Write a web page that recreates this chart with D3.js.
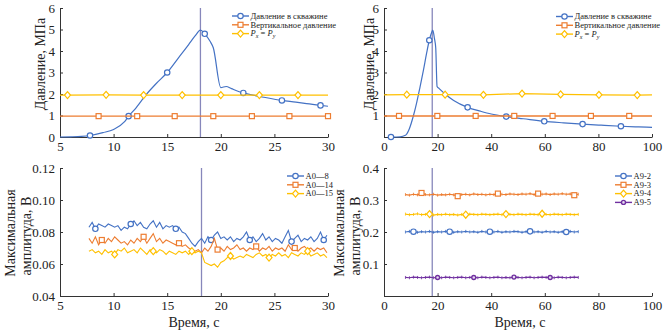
<!DOCTYPE html>
<html>
<head>
<meta charset="utf-8">
<script src="https://cdn.jsdelivr.net/npm/d3@7"></script>
<style>
body { margin: 0; background: #fff; }
</style>
</head>
<body>
<div id="chart"></div>
<script>
// colours of the series
var colBlue = "#4472c4", colOrange = "#ed7d31", colYellow = "#ffc000", colPurple = "#7030a0";
var colEvent = "#8787bb";
var serif = "'Liberation Serif', 'DejaVu Serif', serif";

// --- top left: pressure, 5..30 s
var tlWellT = [5, 6, 7, 7.8, 9, 10, 11, 11.4, 12, 13, 14, 15, 16, 17, 17.6, 18.1, 18.5, 19.0, 19.3, 20.0, 20.5, 21, 22.1, 23, 24, 25.7, 27, 28, 29.3, 30];
var tlWellP = [0, 0.01, 0.03, 0.07, 0.2, 0.35, 0.7, 0.97, 1.3, 1.95, 2.5, 3.0, 3.65, 4.3, 4.7, 4.97, 4.8, 4.45, 4.15, 2.3, 2.35, 2.25, 2.05, 1.95, 1.85, 1.7, 1.62, 1.55, 1.47, 1.43];
var tlWellMarks = [3, 7, 11, 16, 22, 25, 28];
var tlVertT = [5, 8.6, 12.2, 15.7, 19.3, 22.9, 26.4, 30];
var tlVertP = [0.97, 0.97, 0.97, 0.97, 0.97, 0.97, 0.97, 0.97];
var tlVertMarks = [1, 2, 3, 4, 5, 6, 7];
var tlPxyT = [5, 5.7, 9.3, 12.8, 16.4, 20.0, 23.6, 27.2, 30];
var tlPxyP = [1.95, 1.95, 1.96, 1.95, 1.95, 1.95, 1.95, 1.95, 1.95];
var tlPxyMarks = [1, 2, 3, 4, 5, 6, 7];

// --- top right: pressure, 0..100 s
var trWellT = [2.6, 6, 8, 9.5, 11, 12.2, 13.4, 14.7, 15.9, 16.9, 17.6, 18.2, 18.8, 19.3, 19.8, 20.6, 23, 26, 31.2, 36, 40, 45.6, 52, 59.8, 67, 74.1, 81, 88.4, 95, 100];
var trWellP = [0, 0.01, 0.08, 0.4, 1.0, 1.6, 2.3, 3.1, 3.9, 4.5, 4.8, 4.97, 4.6, 4.15, 2.35, 2.25, 1.98, 1.7, 1.38, 1.2, 1.07, 0.95, 0.85, 0.73, 0.66, 0.6, 0.55, 0.5, 0.47, 0.45];
var trWellMarks = [0, 9, 18, 21, 23, 25, 27];
var trVertT = [0, 5.6, 19.9, 34.2, 48.6, 62.9, 77.2, 91.5, 100];
var trVertP = [0.98, 0.98, 0.98, 0.98, 0.98, 0.98, 0.98, 0.98, 0.98];
var trVertMarks = [1, 2, 3, 4, 5, 6, 7];
var trPxyT = [0, 8.5, 22.8, 37.1, 51.5, 65.9, 80.2, 94.5, 100];
var trPxyP = [1.96, 1.97, 1.97, 1.96, 2.02, 1.98, 1.96, 1.95, 1.96];
var trPxyMarks = [1, 2, 3, 4, 5, 6, 7];

// --- bottom left: max amplitude, sampled every 0.3 s from 7.7 s
var blT = d3.range(75).map(function(i) { return 7.7 + i * 0.3; });
var blA8 = [0.083, 0.086, 0.082, 0.085, 0.084, 0.083, 0.085, 0.084, 0.083, 0.084,
  0.081, 0.083, 0.082, 0.085, 0.087, 0.084, 0.086, 0.083, 0.082, 0.085,
  0.087, 0.083, 0.086, 0.082, 0.084, 0.083, 0.084, 0.082, 0.083, 0.080,
  0.079, 0.076, 0.073, 0.071, 0.074, 0.076, 0.073, 0.077, 0.075, 0.078,
  0.080, 0.076, 0.077, 0.075, 0.077, 0.074, 0.076, 0.075, 0.077, 0.080,
  0.075, 0.077, 0.074, 0.076, 0.079, 0.075, 0.077, 0.074, 0.076, 0.075,
  0.073, 0.077, 0.081, 0.074, 0.076, 0.078, 0.074, 0.076, 0.075, 0.077,
  0.074, 0.076, 0.080, 0.075, 0.078];
var blA14 = [0.076, 0.073, 0.077, 0.072, 0.075, 0.073, 0.076, 0.074, 0.077, 0.075,
  0.073, 0.074, 0.072, 0.075, 0.073, 0.076, 0.074, 0.077, 0.073, 0.076,
  0.079, 0.074, 0.076, 0.073, 0.075, 0.074, 0.073, 0.072, 0.073, 0.071,
  0.072, 0.070, 0.069, 0.068, 0.069, 0.067, 0.070, 0.068, 0.071, 0.076,
  0.069, 0.070, 0.068, 0.071, 0.069, 0.070, 0.072, 0.069, 0.070, 0.068,
  0.070, 0.069, 0.071, 0.068, 0.070, 0.069, 0.071, 0.068, 0.070, 0.069,
  0.070, 0.068, 0.072, 0.069, 0.070, 0.068, 0.070, 0.071, 0.069, 0.070,
  0.068, 0.070, 0.069, 0.070, 0.067];
var blA15 = [0.068, 0.069, 0.067, 0.068, 0.066, 0.069, 0.067, 0.068, 0.066, 0.069,
  0.068, 0.070, 0.067, 0.068, 0.069, 0.067, 0.070, 0.068, 0.066, 0.069,
  0.068, 0.067, 0.069, 0.068, 0.066, 0.068, 0.067, 0.066, 0.068, 0.067,
  0.068, 0.066, 0.068, 0.067, 0.068, 0.067, 0.061, 0.060, 0.059, 0.060,
  0.058, 0.061, 0.062, 0.064, 0.065, 0.063, 0.064, 0.065, 0.064, 0.066,
  0.065, 0.064, 0.066, 0.067, 0.065, 0.066, 0.064, 0.066, 0.065, 0.067,
  0.065, 0.066, 0.064, 0.067, 0.066, 0.065, 0.067, 0.066, 0.068, 0.065,
  0.066, 0.067, 0.065, 0.066, 0.064];
var blA8Marks = [2, 13, 27, 38, 50, 63, 73];
var blA14Marks = [4, 17, 28, 40, 52, 64];
var blA15Marks = [8, 20, 32, 44, 56, 68];

// --- bottom right: max amplitude, sampled every 1.5 s from 8 s
var brT = d3.range(44).map(function(i) { return 8 + i * 1.5; });
var brA2 = [0.200, 0.202, 0.201, 0.199, 0.201, 0.200, 0.202, 0.199, 0.201, 0.200,
  0.202, 0.201, 0.199, 0.201, 0.200, 0.202, 0.200, 0.201, 0.199, 0.202,
  0.200, 0.201, 0.200, 0.202, 0.199, 0.201, 0.200, 0.202, 0.201, 0.199,
  0.201, 0.202, 0.200, 0.201, 0.199, 0.202, 0.200, 0.201, 0.199, 0.201,
  0.200, 0.202, 0.200, 0.201];
var brA3 = [0.317, 0.315, 0.318, 0.316, 0.322, 0.317, 0.316, 0.318, 0.315, 0.317,
  0.316, 0.318, 0.316, 0.312, 0.317, 0.318, 0.316, 0.319, 0.317, 0.318,
  0.316, 0.318, 0.317, 0.320, 0.318, 0.317, 0.319, 0.318, 0.317, 0.319,
  0.318, 0.320, 0.317, 0.320, 0.318, 0.319, 0.317, 0.319, 0.318, 0.320,
  0.318, 0.319, 0.315, 0.318];
var brA4 = [0.256, 0.254, 0.255, 0.257, 0.254, 0.255, 0.256, 0.253, 0.255, 0.254,
  0.256, 0.254, 0.255, 0.253, 0.255, 0.254, 0.256, 0.255, 0.254, 0.256,
  0.255, 0.254, 0.255, 0.256, 0.254, 0.256, 0.255, 0.254, 0.256, 0.255,
  0.254, 0.256, 0.255, 0.254, 0.257, 0.255, 0.254, 0.256, 0.255, 0.254,
  0.256, 0.255, 0.254, 0.255];
var brA5 = [0.058, 0.057, 0.059, 0.058, 0.057, 0.058, 0.059, 0.057, 0.058, 0.057,
  0.059, 0.058, 0.057, 0.058, 0.059, 0.057, 0.058, 0.058, 0.057, 0.059,
  0.058, 0.057, 0.058, 0.059, 0.057, 0.058, 0.057, 0.059, 0.058, 0.057,
  0.058, 0.059, 0.057, 0.058, 0.059, 0.058, 0.058, 0.057, 0.059, 0.058,
  0.057, 0.058, 0.059, 0.058];
var brA2Marks = [2, 11, 21, 31, 40];
var brA3Marks = [4, 13, 23, 33, 42];
var brA4Marks = [6, 15, 25, 34];
var brA5Marks = [8, 17, 27, 36];

// event line (moment of fracture)
var eventT = [18.1, 18.0, 18.2, 18.0];

var svg = d3.select("#chart").append("svg").attr("width", 663).attr("height", 330)
    .style("font-family", serif);

function marker(sel, type, color, cx, cy) {
    if (type == "circle") {
        sel.append("circle").attr("cx", cx).attr("cy", cy).attr("r", 2.7)
            .attr("fill", "#fff").attr("stroke", color).attr("stroke-width", 1.2);
    } else if (type == "square") {
        sel.append("rect").attr("x", cx - 2.5).attr("y", cy - 2.5).attr("width", 5).attr("height", 5)
            .attr("fill", "#fff").attr("stroke", color).attr("stroke-width", 1.2);
    } else if (type == "diamond") {
        sel.append("path").attr("d", "M" + cx + "," + (cy - 3.5) + "L" + (cx + 3) + "," + cy + "L" + cx + "," + (cy + 3.5) + "L" + (cx - 3) + "," + cy + "Z")
            .attr("fill", "#fff").attr("stroke", color).attr("stroke-width", 1.2);
    } else {
        sel.append("circle").attr("cx", cx).attr("cy", cy).attr("r", 2)
            .attr("fill", "#e6dbef").attr("stroke", color).attr("stroke-width", 1.4);
    }
}

function makePanel(p) {
    var x = d3.scaleLinear().domain(p.xdom).range([p.left, p.right]);
    var y = d3.scaleLinear().domain(p.ydom).range([p.bottom, p.top]);
    var g = svg.append("g");

    var xa = g.append("g").attr("transform", "translate(0," + p.bottom + ")")
        .call(d3.axisBottom(x).tickValues(p.xticks).tickSizeInner(-3).tickSizeOuter(0).tickPadding(5).tickFormat(d3.format("d")));
    var ya = g.append("g").attr("transform", "translate(" + p.left + ",0)")
        .call(d3.axisLeft(y).tickValues(p.yticks).tickSizeInner(-3).tickSizeOuter(0).tickPadding(5).tickFormat(p.yfmt));
    [xa, ya].forEach(function(a) {
        a.attr("font-family", serif).attr("font-size", 13);
        a.selectAll("path, line").attr("stroke", "#333");
        a.selectAll("text").attr("fill", "#222");
    });

    // vertical event line
    g.append("line").attr("x1", x(p.event)).attr("x2", x(p.event))
        .attr("y1", p.top).attr("y2", p.bottom)
        .attr("stroke", colEvent).attr("stroke-width", 1.3);

    p.series.forEach(function(s) {
        var pts = s.t.map(function(t, i) { return [x(t), y(s.v[i])]; });
        var line = d3.line().curve(s.smooth ? d3.curveMonotoneX : d3.curveLinear);
        g.append("path").attr("d", line(pts)).attr("fill", "none")
            .attr("stroke", s.color).attr("stroke-width", s.width || 1.2);
        if (s.ticks) {
            g.selectAll(null).data(pts).enter().append("line")
                .attr("x1", function(d) { return d[0]; }).attr("x2", function(d) { return d[0]; })
                .attr("y1", function(d) { return d[1] - 1.5; }).attr("y2", function(d) { return d[1] + 1.5; })
                .attr("stroke", s.color).attr("stroke-width", 0.8);
        }
        s.marks.forEach(function(i) { marker(g, s.shape, s.color, pts[i][0], pts[i][1]); });
    });

    // legend
    var lg = g.append("g");
    p.series.forEach(function(s, i) {
        var ly = p.legend.y + i * p.legend.dy;
        lg.append("line").attr("x1", p.legend.x).attr("x2", p.legend.x + 17)
            .attr("y1", ly).attr("y2", ly).attr("stroke", s.color).attr("stroke-width", 1.4);
        marker(lg, s.shape, s.color, p.legend.x + 8.5, ly);
        var t = lg.append("text").attr("x", p.legend.x + 18.5).attr("y", ly + 2.8)
            .attr("font-size", 8.5).attr("fill", "#222");
        if (s.label == "Pxy") {
            t.append("tspan").attr("font-style", "italic").text("P");
            t.append("tspan").attr("font-style", "italic").attr("font-size", 6).attr("dy", 2).text("x");
            t.append("tspan").attr("dy", -2).text(" = ");
            t.append("tspan").attr("font-style", "italic").text("P");
            t.append("tspan").attr("font-style", "italic").attr("font-size", 6).attr("dy", 2).text("y");
        } else {
            t.text(s.label);
        }
    });
    return g;
}

makePanel({
    left: 60, right: 328, top: 8, bottom: 137,
    xdom: [5, 30], ydom: [0, 6], xticks: [5, 10, 15, 20, 25, 30], yticks: [0, 1, 2, 3, 4, 5, 6],
    yfmt: d3.format("d"), event: eventT[0],
    legend: { x: 232, y: 16, dy: 8.8 },
    series: [
        { t: tlWellT, v: tlWellP, marks: tlWellMarks, color: colBlue, shape: "circle", smooth: true, label: "Давление в скважине" },
        { t: tlVertT, v: tlVertP, marks: tlVertMarks, color: colOrange, shape: "square", label: "Вертикальное давление" },
        { t: tlPxyT, v: tlPxyP, marks: tlPxyMarks, color: colYellow, shape: "diamond", label: "Pxy" }
    ]
});

makePanel({
    left: 384, right: 652, top: 8, bottom: 137,
    xdom: [0, 100], ydom: [0, 6], xticks: [0, 20, 40, 60, 80, 100], yticks: [0, 1, 2, 3, 4, 5, 6],
    yfmt: function(d) { return d == 0 ? "" : d; }, event: eventT[1],
    legend: { x: 556, y: 16.5, dy: 8.8 },
    series: [
        { t: trWellT, v: trWellP, marks: trWellMarks, color: colBlue, shape: "circle", smooth: true, label: "Давление в скважине" },
        { t: trVertT, v: trVertP, marks: trVertMarks, color: colOrange, shape: "square", width: 1.6, label: "Вертикальное давление" },
        { t: trPxyT, v: trPxyP, marks: trPxyMarks, color: colYellow, shape: "diamond", label: "Pxy" }
    ]
});

makePanel({
    left: 60, right: 328, top: 168, bottom: 296,
    xdom: [5, 30], ydom: [0.04, 0.12], xticks: [5, 10, 15, 20, 25, 30], yticks: [0.04, 0.06, 0.08, 0.10, 0.12],
    yfmt: d3.format(".2f"), event: eventT[2],
    legend: { x: 287, y: 176, dy: 8.8 },
    series: [
        { t: blT, v: blA8, marks: blA8Marks, color: colBlue, shape: "circle", width: 1.1, label: "A0—8" },
        { t: blT, v: blA14, marks: blA14Marks, color: colOrange, shape: "square", width: 1.1, label: "A0—14" },
        { t: blT, v: blA15, marks: blA15Marks, color: colYellow, shape: "diamond", width: 1.1, label: "A0—15" }
    ]
});

makePanel({
    left: 384, right: 652, top: 168, bottom: 296,
    xdom: [0, 100], ydom: [0, 0.4], xticks: [0, 20, 40, 60, 80, 100], yticks: [0, 0.1, 0.2, 0.3, 0.4],
    yfmt: function(d) { return d == 0 ? "" : d3.format(".1f")(d); }, event: eventT[3],
    legend: { x: 615, y: 176, dy: 8.8 },
    series: [
        { t: brT, v: brA2, marks: brA2Marks, color: colBlue, shape: "circle", ticks: true, label: "A9-2" },
        { t: brT, v: brA3, marks: brA3Marks, color: colOrange, shape: "square", ticks: true, label: "A9-3" },
        { t: brT, v: brA4, marks: brA4Marks, color: colYellow, shape: "diamond", ticks: true, label: "A9-4" },
        { t: brT, v: brA5, marks: brA5Marks, color: colPurple, shape: "small", ticks: true, label: "A9-5" }
    ]
});

// axis titles
function vtitle(x, y, txt) {
    svg.append("text").attr("transform", "translate(" + x + "," + y + ") rotate(-90)")
        .attr("text-anchor", "middle").attr("dominant-baseline", "central")
        .attr("font-size", 14).attr("fill", "#222").text(txt);
}
vtitle(40, 64, "Давление, МПа");
vtitle(369, 64, "Давление, МПа");
vtitle(10, 233, "Максимальная");
vtitle(26, 236, "амплитуда, В");
vtitle(339, 233, "Максимальная");
vtitle(355, 236, "амплитуда, В");
svg.append("text").attr("x", 194).attr("y", 327).attr("text-anchor", "middle").attr("font-size", 14).attr("fill", "#222").text("Время, с");
svg.append("text").attr("x", 520).attr("y", 327).attr("text-anchor", "middle").attr("font-size", 14).attr("fill", "#222").text("Время, с");

svg.selectAll("text").style("font-family", serif);
</script>
</body>
</html>
